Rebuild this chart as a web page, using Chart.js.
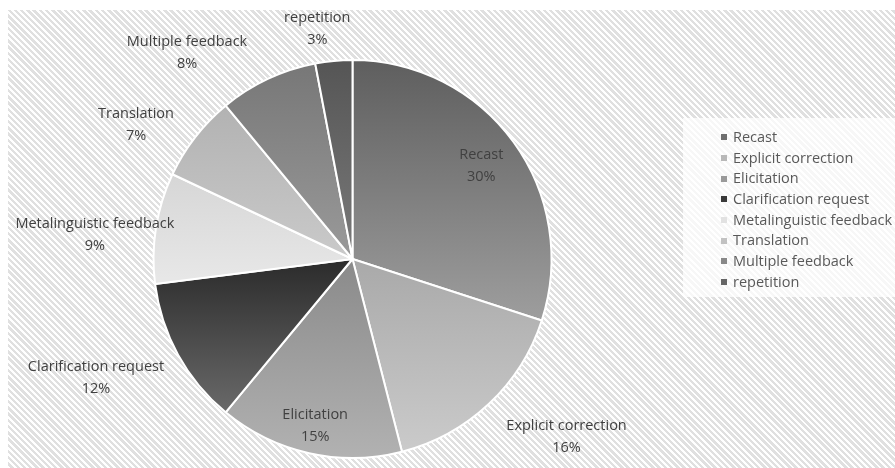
<!DOCTYPE html>
<html lang="en">
<head>
    <meta charset="UTF-8">
    <title>Corrective feedback types</title>
    <script src="https://cdn.jsdelivr.net/npm/chart.js"></script>
    <style>
        html, body { margin: 0; padding: 0; background: #fff; }
        #wrap {
            position: relative; width: 895px; height: 468px; overflow: hidden;
        }
        #hatch {
            position: absolute; left: 8px; top: 10px; right: 0; bottom: 0;
            background: repeating-linear-gradient(45deg, #ffffff 0px, #ffffff 2px, #e0e0e0 2px, #e0e0e0 4.4px);
        }
        #chart { position: absolute; left: 0; top: 0; }
        #legend {
            position: absolute; left: 683px; top: 118px; width: 212px; height: 179px;
            background: rgba(255, 255, 255, 0.72);
            box-sizing: border-box; padding: 9px 0 0 38px;
            font-family: "Open Sans", sans-serif; font-size: 14.5px; color: #595959;
        }
        #legend div { height: 20.7px; line-height: 20.7px; white-space: nowrap; }
        #legend span {
            display: inline-block; width: 6px; height: 6px; margin-right: 6px;
            vertical-align: middle; position: relative; top: -1px;
        }
    </style>
</head>
<body>
<div id="wrap">
    <div id="hatch"></div>
    <canvas id="chart" width="895" height="468"></canvas>
    <div id="legend"></div>
</div>

<script>
    // data
    const categories = ['Recast', 'Explicit correction', 'Elicitation', 'Clarification request',
        'Metalinguistic feedback', 'Translation', 'Multiple feedback', 'repetition'];
    const percents = [30, 16, 15, 12, 9, 7, 8, 3];

    // greys: top of slice -> bottom of slice, and legend swatch
    const topColors = ['#5e5e5e', '#a9a9a9', '#8a8a8a', '#2b2b2b', '#d6d6d6', '#b2b2b2', '#777777', '#555555'];
    const bottomColors = ['#9e9e9e', '#cbcbcb', '#b2b2b2', '#6a6a6a', '#e8e8e8', '#cacaca', '#9a9a9a', '#7a7a7a'];
    const swatchColors = ['#6e6e6e', '#b8b8b8', '#9a9a9a', '#3a3a3a', '#e2e2e2', '#c2c2c2', '#888888', '#666666'];

    // label placement: distance from centre (x radius) and angle tweak (deg)
    const labelDist = [0.80, 1.40, 0.86, 1.42, 1.30, 1.28, 1.33, 1.17];
    const labelTweak = [0, -7, 0, 4, -3.7, -6, -13.5, -3.3];

    const total = percents.reduce((a, b) => a + b, 0);

    // vertical gradient over each slice's own height
    function sliceFill(context) {
        const chart = context.chart;
        const area = chart.chartArea;
        const i = context.dataIndex;
        if (!area) return swatchColors[i];
        const cx = (area.left + area.right) / 2;
        const cy = (area.top + area.bottom) / 2;
        const r = Math.min(area.right - area.left, area.bottom - area.top) / 2;
        let before = 0;
        for (let k = 0; k < i; k++) before += percents[k];
        const a0 = -Math.PI / 2 + before / total * Math.PI * 2;
        const a1 = a0 + percents[i] / total * Math.PI * 2;
        const ys = [cy, cy + r * Math.sin(a0), cy + r * Math.sin(a1)];
        // top / bottom of the circle inside this arc?
        [-Math.PI / 2, Math.PI / 2, Math.PI * 1.5].forEach(a => {
            if (a >= a0 && a <= a1) ys.push(cy + r * Math.sin(a));
        });
        const y0 = Math.min(...ys), y1 = Math.max(...ys);
        const g = chart.ctx.createLinearGradient(0, y0, 0, y1 + 1);
        g.addColorStop(0, topColors[i]);
        g.addColorStop(1, bottomColors[i]);
        return g;
    }

    const sliceLabels = {
        id: 'sliceLabels',
        afterDatasetsDraw(chart) {
            const ctx = chart.ctx;
            const meta = chart.getDatasetMeta(0);
            ctx.save();
            ctx.font = '14.5px "Open Sans", sans-serif';
            ctx.fillStyle = '#404040';
            ctx.textAlign = 'center';
            ctx.textBaseline = 'middle';
            meta.data.forEach((arc, i) => {
                const p = arc.getProps(['x', 'y', 'startAngle', 'endAngle', 'outerRadius'], true);
                const mid = (p.startAngle + p.endAngle) / 2 + labelTweak[i] * Math.PI / 180;
                const d = p.outerRadius * labelDist[i];
                const x = p.x + Math.cos(mid) * d;
                const y = p.y + Math.sin(mid) * d;
                ctx.fillText(categories[i], x, y - 11);
                ctx.fillText(percents[i] + '%', x, y + 11);
            });
            ctx.restore();
        }
    };

    const ctx = document.getElementById('chart').getContext('2d');
    const pieChart = new Chart(ctx, {
        type: 'pie',
        data: {
            labels: categories,
            datasets: [{
                data: percents,
                backgroundColor: sliceFill,
                borderColor: '#ffffff',
                borderWidth: 2
            }]
        },
        options: {
            responsive: false,
            animation: false,
            layout: { padding: { left: 152, right: 342, top: 59, bottom: 9 } },
            plugins: {
                legend: { display: false },
                tooltip: { enabled: false }
            }
        },
        plugins: [sliceLabels]
    });

    // legend
    const legend = document.getElementById('legend');
    categories.forEach((name, i) => {
        const row = document.createElement('div');
        const sw = document.createElement('span');
        sw.style.background = swatchColors[i];
        row.appendChild(sw);
        row.appendChild(document.createTextNode(name));
        legend.appendChild(row);
    });
</script>
</body>
</html>
